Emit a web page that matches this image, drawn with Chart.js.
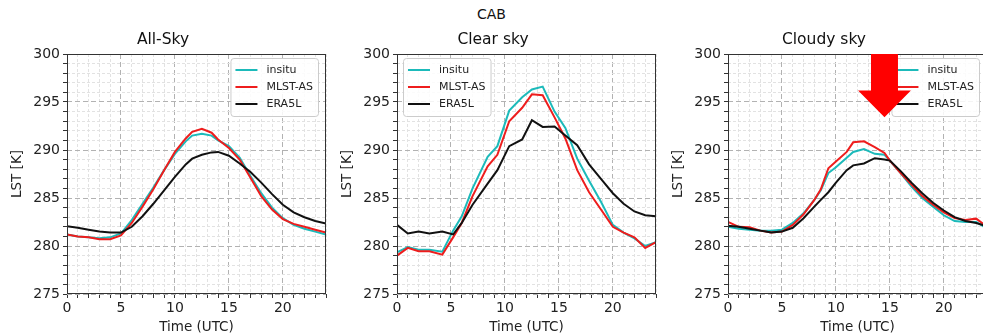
<!DOCTYPE html>
<html>
<head>
<meta charset="utf-8">
<script src="https://cdn.jsdelivr.net/npm/chart.js@4.4.1/dist/chart.umd.min.js"></script>
<style>
  html, body { margin: 0; padding: 0; background: #fff; }
  body { width: 983px; height: 336px; overflow: hidden; position: relative; font-family: 'DejaVu Sans', sans-serif; }
  #suptitle { position: absolute; top: 6px; left: 0; width: 983px; text-align: center; font-size: 14px; line-height: 17px; color: #111; }
  canvas { position: absolute; top: 0; }
</style>
</head>
<body>
<div id="suptitle">CAB</div>
<canvas id="c1" width="330" height="336" style="left:0px"></canvas>
<canvas id="c2" width="330" height="336" style="left:330px"></canvas>
<canvas id="c3" width="330" height="336" style="left:661px"></canvas>
<script>
// --- data (LST in K vs hour UTC) ---
const seriesNames = ['insitu', 'MLST-AS', 'ERA5L'];
const seriesColors = ['#1cbaba', '#ee1d1d', '#111111'];

const allHours = [0, 1, 2, 3, 4, 5, 6, 7, 8, 9, 10, 11, 11.6, 12.5, 13.4, 14, 15, 16, 17, 18, 19, 20, 21, 22, 23, 24];
const allInsitu = [281.2, 281.0, 280.9, 280.8, 280.9, 281.3, 282.7, 284.4, 286.1, 287.9, 289.6, 290.9, 291.5, 291.7, 291.5, 291.0, 290.4, 289.2, 287.3, 285.5, 284.0, 282.9, 282.2, 281.8, 281.5, 281.2];
const allMlst = [281.2, 281.0, 280.9, 280.7, 280.7, 281.1, 282.4, 284.1, 285.9, 287.9, 289.8, 291.2, 291.9, 292.2, 291.8, 291.1, 290.2, 289.0, 287.1, 285.2, 283.8, 282.8, 282.3, 282.0, 281.7, 281.4];
const allEra = [282.05, 281.9, 281.7, 281.5, 281.4, 281.4, 282.0, 283.1, 284.4, 285.8, 287.2, 288.5, 289.1, 289.5, 289.75, 289.8, 289.4, 288.6, 287.7, 286.6, 285.4, 284.3, 283.5, 283.0, 282.6, 282.35];

const clearHours = [0, 1, 2, 3, 4.2, 5.2, 6, 7, 8.4, 9.3, 10.4, 11.6, 12.5, 13.5, 14.6, 15.6, 16.7, 17.8, 18.9, 20, 21, 22, 23, 24];
const clearInsitu = [279.35, 279.9, 279.6, 279.6, 279.4, 281.6, 283.1, 286.0, 289.3, 290.4, 294.1, 295.5, 296.3, 296.6, 294.0, 292.3, 289.1, 286.8, 284.6, 282.2, 281.4, 280.8, 280.0, 280.4];
const clearMlst = [279.0, 279.8, 279.45, 279.45, 279.1, 280.9, 282.4, 285.2, 288.3, 289.5, 293.0, 294.4, 295.8, 295.7, 293.4, 291.2, 287.9, 285.6, 283.8, 282.0, 281.4, 280.9, 279.8, 280.4];
const clearEra = [282.2, 281.3, 281.5, 281.3, 281.5, 281.2, 282.4, 284.3, 286.5, 287.9, 290.4, 291.1, 293.1, 292.4, 292.45, 291.5, 290.5, 288.5, 287.0, 285.5, 284.4, 283.6, 283.2, 283.1];

const cloudHours = [0, 1, 2, 3, 4, 5, 6, 7, 8, 8.6, 9.3, 10, 11, 11.6, 12.6, 13.6, 14.5, 15, 16, 17, 18, 19, 20, 21, 22, 23, 24];
const cloudInsitu = [282.0, 281.8, 281.7, 281.6, 281.6, 281.7, 282.4, 283.4, 284.8, 285.8, 287.6, 288.2, 289.2, 289.8, 290.1, 289.6, 289.5, 288.9, 287.6, 286.2, 285.0, 284.1, 283.2, 282.6, 282.5, 282.5, 281.8];
const cloudMlst = [282.5, 282.0, 281.95, 281.6, 281.4, 281.5, 282.2, 283.3, 284.8, 285.9, 288.1, 288.8, 289.8, 290.8, 290.9, 290.3, 289.7, 288.9, 287.6, 286.4, 285.2, 284.3, 283.5, 282.9, 282.7, 282.85, 282.0];
const cloudEra = [282.1, 282.0, 281.8, 281.6, 281.4, 281.5, 281.9, 282.9, 284.1, 284.8, 285.6, 286.6, 287.9, 288.4, 288.6, 289.15, 289.0, 288.9, 287.8, 286.6, 285.5, 284.5, 283.7, 283.0, 282.6, 282.4, 282.05];

// red arrow in the cloudy panel, in data units (hour, K)
const arrowAt = { x: 14.5, top: 300, neck: 296.2, tip: 293.4, shaft: 1.25, head: 2.45 };

const FONT = "'DejaVu Sans', sans-serif";

function isMajor(v) {
    return Math.abs(v % 5) < 1e-6;
}

// frame, inset legend and the optional arrow, drawn over the lines
const overlay = {
    id: 'overlay',
    afterDatasetsDraw(chart, args, opts) {
        const { ctx, chartArea: a } = chart;
        ctx.save();

        // axes frame (matplotlib style box)
        ctx.strokeStyle = '#333';
        ctx.lineWidth = 1;
        ctx.strokeRect(a.left + 0.5, a.top + 0.5, a.right - a.left - 1, a.bottom - a.top - 1);

        // legend box
        ctx.font = '11px ' + FONT;
        const textW = Math.max(...seriesNames.map(n => ctx.measureText(n).width));
        const pad = 5, lineLen = 22, gap = 9, rowH = 17;
        const w = pad + lineLen + gap + textW + pad;
        const h = 7 + rowH * 3;
        const x0 = opts.side === 'right' ? a.right - 8 - w : a.left + 6;
        const y0 = a.top + 4;
        ctx.beginPath();
        ctx.roundRect(x0 + 0.5, y0 + 0.5, w, h, 3);
        ctx.fillStyle = 'rgba(255,255,255,0.85)';
        ctx.fill();
        ctx.strokeStyle = '#cccccc';
        ctx.stroke();
        ctx.textBaseline = 'middle';
        ctx.textAlign = 'left';
        seriesNames.forEach((name, i) => {
            const yy = y0 + 3.5 + rowH / 2 + i * rowH;
            ctx.beginPath();
            ctx.moveTo(x0 + pad, yy);
            ctx.lineTo(x0 + pad + lineLen, yy);
            ctx.strokeStyle = seriesColors[i];
            ctx.lineWidth = 2;
            ctx.stroke();
            ctx.fillStyle = '#222';
            ctx.fillText(name, x0 + pad + lineLen + gap, yy + 0.5);
        });

        // arrow
        if (opts.arrow) {
            const xs = chart.scales.x, ys = chart.scales.y;
            const ar = opts.arrow;
            const cx = xs.getPixelForValue(ar.x);
            const sw = xs.getPixelForValue(ar.x + ar.shaft) - cx;
            const hw = xs.getPixelForValue(ar.x + ar.head) - cx;
            const yt = ys.getPixelForValue(ar.top);
            const yn = ys.getPixelForValue(ar.neck);
            const yp = ys.getPixelForValue(ar.tip);
            ctx.beginPath();
            ctx.moveTo(cx - sw, yt);
            ctx.lineTo(cx + sw, yt);
            ctx.lineTo(cx + sw, yn);
            ctx.lineTo(cx + hw, yn);
            ctx.lineTo(cx, yp);
            ctx.lineTo(cx - hw, yn);
            ctx.lineTo(cx - sw, yn);
            ctx.closePath();
            ctx.fillStyle = '#ff0000';
            ctx.fill();
        }
        ctx.restore();
    }
};

function makePanel(id, title, hours, insitu, mlst, era, side, arrow) {
    const series = [insitu, mlst, era];
    const datasets = series.map((vals, i) => ({
        label: seriesNames[i],
        data: hours.map((h, j) => ({ x: h, y: vals[j] })),
        borderColor: seriesColors[i],
        backgroundColor: seriesColors[i],
        borderWidth: 2,
        pointRadius: 0,
        tension: 0,
        fill: false,
        order: 3 - i
    }));

    const grid = {
        color: c => isMajor(c.tick.value) ? '#b2b2b2' : '#e2e2e2',
        lineWidth: 1,
        tickLength: 4,
        tickColor: '#333',
        tickWidth: 1
    };
    const border = {
        display: false,
        dash: c => isMajor(c.tick.value) ? [5, 3] : [3, 2]
    };

    return new Chart(document.getElementById(id), {
        type: 'line',
        data: { datasets },
        plugins: [overlay],
        options: {
            responsive: false,
            animation: false,
            events: [],
            layout: { padding: { left: 0, right: 4, top: 0, bottom: 0 } },
            plugins: {
                legend: { display: false },
                tooltip: { enabled: false },
                title: {
                    display: true,
                    text: title,
                    color: '#111',
                    font: { family: FONT, size: 15.5, weight: 'normal', lineHeight: 1.2 },
                    padding: { top: 30.5, bottom: 4.9 }
                },
                overlay: { side, arrow }
            },
            scales: {
                x: {
                    type: 'linear',
                    min: 0,
                    max: 24,
                    afterFit: s => { s.height = 42; },
                    grid,
                    border,
                    ticks: {
                        stepSize: 1,
                        autoSkip: false,
                        maxRotation: 0,
                        padding: 2,
                        color: '#222',
                        font: { family: FONT, size: 14 },
                        callback: v => isMajor(v) ? String(v) : ''
                    },
                    title: {
                        display: true,
                        text: 'Time (UTC)',
                        color: '#222',
                        font: { family: FONT, size: 13.5, lineHeight: 1.2 },
                        padding: { top: 0, bottom: 0.5 }
                    }
                },
                y: {
                    type: 'linear',
                    min: 275,
                    max: 300,
                    afterFit: s => { s.width = 67; },
                    grid,
                    border,
                    ticks: {
                        stepSize: 1,
                        autoSkip: false,
                        padding: 3,
                        color: '#222',
                        font: { family: FONT, size: 14 },
                        callback: v => isMajor(v) ? String(v) : ''
                    },
                    title: {
                        display: true,
                        text: 'LST [K]',
                        color: '#222',
                        font: { family: FONT, size: 13.5, lineHeight: 1.2 },
                        padding: { top: 9, bottom: 0 }
                    }
                }
            }
        }
    });
}

makePanel('c1', 'All-Sky', allHours, allInsitu, allMlst, allEra, 'right', null);
makePanel('c2', 'Clear sky', clearHours, clearInsitu, clearMlst, clearEra, 'left', null);
makePanel('c3', 'Cloudy sky', cloudHours, cloudInsitu, cloudMlst, cloudEra, 'right', arrowAt);
</script>
</body>
</html>
